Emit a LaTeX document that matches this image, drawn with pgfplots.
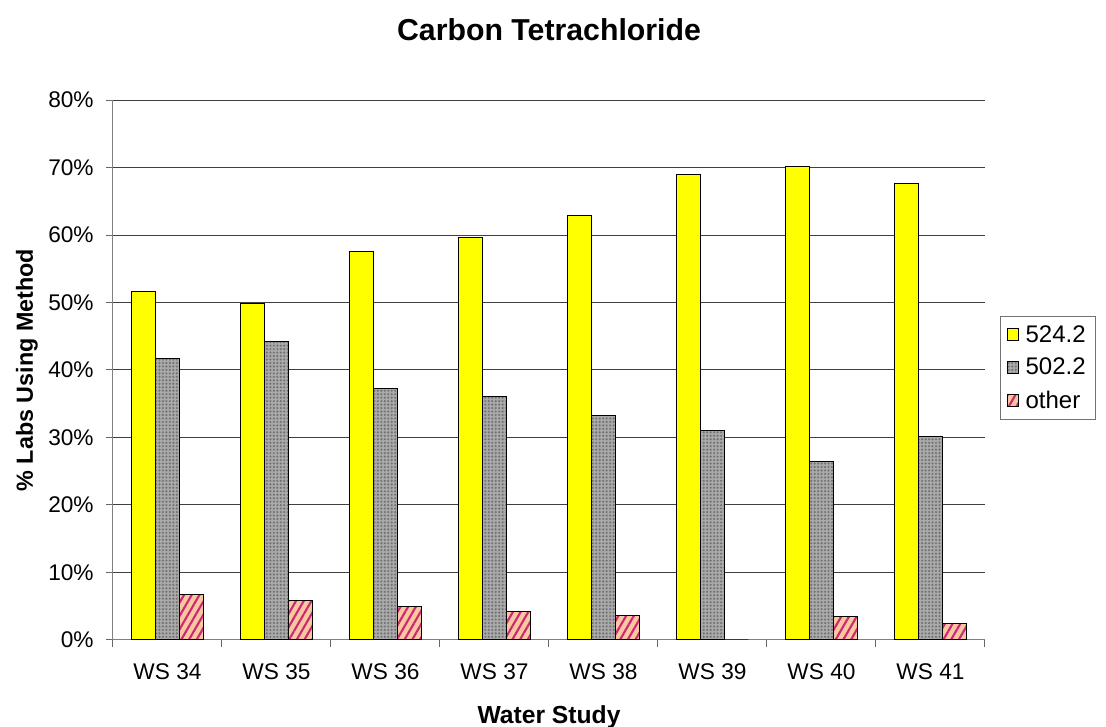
\documentclass[border=0pt]{standalone}
\usepackage{fontspec}
\setmainfont{Liberation Sans}
\usepackage{pgfplots}
\pgfplotsset{compat=1.18}
\usetikzlibrary{patterns.meta}

\definecolor{ylw}{RGB}{255,255,0}
\definecolor{grayfill}{RGB}{170,170,170}
\definecolor{peach}{RGB}{250,200,160}
\definecolor{stripe}{RGB}{205,40,115}

\begin{document}
\begin{tikzpicture}
\useasboundingbox (-84.75pt,-65.25pt) rectangle (744.75pt,480pt);
\begin{axis}[
  scale only axis, width=654pt, height=405pt,
  ybar=0pt, bar width=18pt,
  ymin=0, ymax=80, ytick={0,10,...,80},
  xmin=-0.5, xmax=7.5,
  xtick={0,...,7},
  xticklabels={WS 34,WS 35,WS 36,WS 37,WS 38,WS 39,WS 40,WS 41},
  minor xtick={-0.5,0.5,...,7.5},
  major x tick style={draw=none},
  tick align=outside, tick pos=left,
  major tick length=5pt, minor tick length=5pt,
  every tick/.style={black!60, line width=0.75pt},
  axis lines*=left,
  axis line style={black!50, line width=0.75pt},
  ymajorgrids, grid style={black!75, line width=0.75pt},
  /pgf/number format/assume math mode=true,
  yticklabel={\pgfmathprintnumber{\tick}\%},
  tick label style={font=\fontsize{17}{19}\selectfont},
  yticklabel style={anchor=east, xshift=-6pt},
  xticklabel style={anchor=base, yshift=-25pt},
  title={Carbon Tetrachloride},
  title style={font=\fontsize{22.7}{25}\selectfont\bfseries, at={(0.5,1)}, anchor=base, yshift=39pt},
  xlabel={Water Study},
  xlabel style={font=\fontsize{18.5}{21}\selectfont\bfseries, at={(0.5,0)}, anchor=base, yshift=-62.5pt},
  ylabel={\% Labs Using Method},
  ylabel style={font=\fontsize{17.5}{20}\selectfont\bfseries, at={(0,0.5)}, anchor=base, yshift=60pt, rotate=0},
  legend style={at={(1,0.504)}, anchor=west, xshift=11pt, draw=black!55,
    line width=0.75pt, font=\fontsize{18}{20}\selectfont, row sep=6.5pt,
    inner xsep=5pt, inner ysep=5pt, cells={anchor=west},
    /tikz/every odd column/.style={column sep=3pt}},
  legend image code/.code={\draw[#1, line width=0.6pt] (0pt,-4.5pt) rectangle (8.5pt,4.5pt);},
]
\addplot[fill=ylw, draw=black, line width=0.75pt] coordinates
  {(0,51.7) (1,49.9) (2,57.6) (3,59.6) (4,62.9) (5,69.0) (6,70.2) (7,67.6)};
\addplot[fill=grayfill, draw=black, line width=0.75pt,
  postaction={pattern={Dots[distance=2.6pt, radius=0.9pt]}, pattern color=black!55}] coordinates
  {(0,41.7) (1,44.2) (2,37.3) (3,36.1) (4,33.2) (5,31.0) (6,26.4) (7,30.1)};
\addplot[fill=peach, draw=black, line width=0.75pt,
  postaction={pattern={Lines[angle=60, distance=5pt, line width=1.6pt]}, pattern color=stripe}] coordinates
  {(0,6.7) (1,5.9) (2,5.0) (3,4.25) (4,3.65) (5,0) (6,3.5) (7,2.4)};
\legend{524.2, 502.2, other}
\end{axis}
\end{tikzpicture}
\end{document}
